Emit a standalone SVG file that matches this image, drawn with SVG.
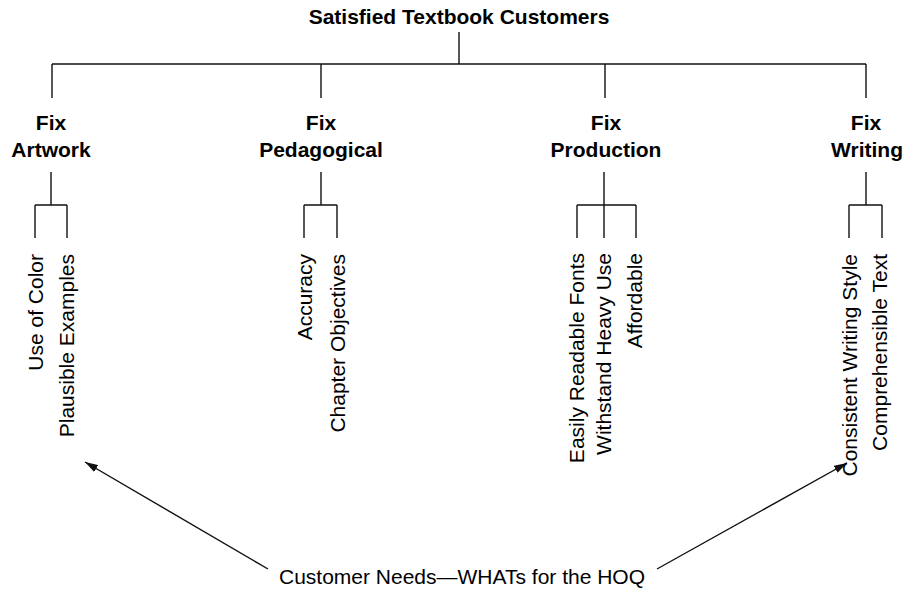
<svg xmlns="http://www.w3.org/2000/svg" width="904" height="591" viewBox="0 0 904 591">
<style>
  .ln { stroke:#111; stroke-width:1.4; fill:none; }
  .b { font-family:"Liberation Sans", Arial, sans-serif; font-weight:bold; font-size:21px; fill:#000; text-anchor:middle; }
  .r { font-family:"Liberation Sans", Arial, sans-serif; font-size:21px; fill:#000; text-anchor:end; }
  .c { font-family:"Liberation Sans", Arial, sans-serif; font-size:21px; fill:#000; text-anchor:middle; }
</style>
<defs>
  <marker id="ah" markerUnits="userSpaceOnUse" markerWidth="14" markerHeight="8" refX="13" refY="4" orient="auto">
    <path d="M0,0 L13,4 L0,8 z" fill="#111"/>
  </marker>
</defs>
<rect width="904" height="591" fill="#fff"/>
<g id="connectors">
  <path class="ln" d="M459,32 V64 M52,64 H866 M52,64 V98 M321,64 V98 M605,64 V98 M866,64 V98"/>
  <path class="ln" d="M51,172 V205 M35,205 H67 M35,205 V238 M67,205 V238"/>
  <path class="ln" d="M321,172 V205 M304,205 H337 M304,205 V238 M337,205 V238"/>
  <path class="ln" d="M604,172 V205 M577,205 H636 M577,205 V238 M604,205 V238 M636,205 V238"/>
  <path class="ln" d="M866,172 V205 M849,205 H882 M849,205 V238 M882,205 V238"/>
  <line class="ln" x1="268" y1="569" x2="85" y2="462" marker-end="url(#ah)"/>
  <line class="ln" x1="657" y1="569" x2="847" y2="463" marker-end="url(#ah)"/>
</g>
<g id="root"><text class="b" x="459" y="24">Satisfied Textbook Customers</text></g>
<g id="fix-artwork"><text class="b" x="51" y="130">Fix</text><text class="b" x="51" y="157">Artwork</text></g>
<g id="fix-pedagogical"><text class="b" x="321" y="130">Fix</text><text class="b" x="321" y="157">Pedagogical</text></g>
<g id="fix-production"><text class="b" x="606" y="130">Fix</text><text class="b" x="606" y="157">Production</text></g>
<g id="fix-writing"><text class="b" x="866" y="130">Fix</text><text class="b" x="867" y="157">Writing</text></g>
<g id="use-of-color"><text class="r" transform="translate(43,254) rotate(-90)">Use of Color</text></g>
<g id="plausible-examples"><text class="r" transform="translate(74,254) rotate(-90)">Plausible Examples</text></g>
<g id="accuracy"><text class="r" transform="translate(312,254) rotate(-90)">Accuracy</text></g>
<g id="chapter-objectives"><text class="r" transform="translate(345,254) rotate(-90)">Chapter Objectives</text></g>
<g id="easily-readable-fonts"><text class="r" transform="translate(584,253) rotate(-90)">Easily Readable Fonts</text></g>
<g id="withstand-heavy-use"><text class="r" transform="translate(611,253) rotate(-90)">Withstand Heavy Use</text></g>
<g id="affordable"><text class="r" transform="translate(642,253) rotate(-90)">Affordable</text></g>
<g id="consistent-writing-style"><text class="r" transform="translate(857,254) rotate(-90)">Consistent Writing Style</text></g>
<g id="comprehensible-text"><text class="r" transform="translate(887,254) rotate(-90)">Comprehensible Text</text></g>
<g id="customer-needs"><text class="c" x="462" y="584">Customer Needs—WHATs for the HOQ</text></g>
</svg>
